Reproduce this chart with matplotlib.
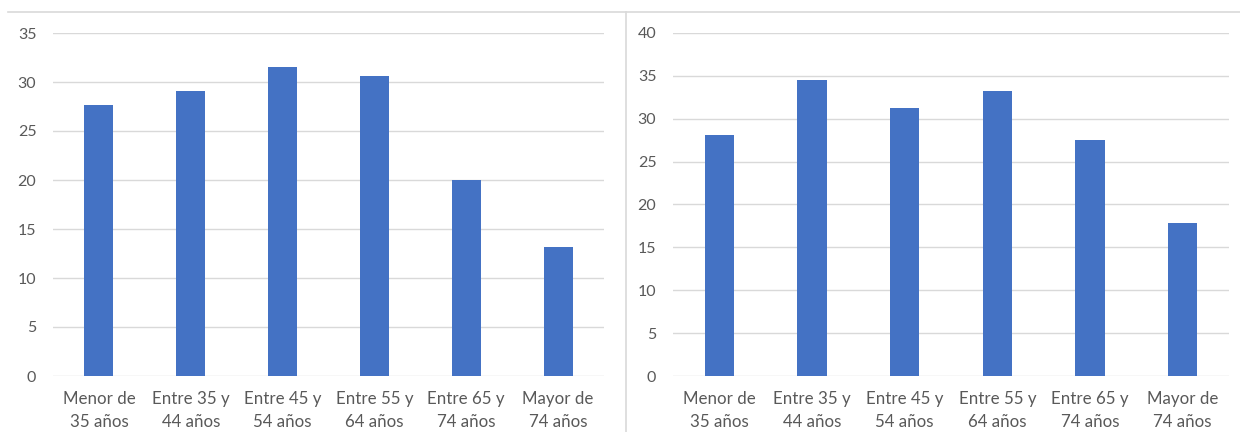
import matplotlib
matplotlib.use("Agg")
import matplotlib.pyplot as plt
from matplotlib.lines import Line2D

plt.rcParams['font.family'] = ['Lato', 'DejaVu Sans']

categories = ["Menor de\n35 años", "Entre 35 y\n44 años", "Entre 45 y\n54 años",
              "Entre 55 y\n64 años", "Entre 65 y\n74 años", "Mayor de\n74 años"]
values_left = [27.7, 29.1, 31.5, 30.6, 20.0, 13.2]
values_right = [28.1, 34.5, 31.3, 33.2, 27.5, 17.8]
yticks_left = [0, 5, 10, 15, 20, 25, 30, 35]
yticks_right = [0, 5, 10, 15, 20, 25, 30, 35, 40]

BAR = "#4472C4"
GRID = "#d9d9d9"
TEXT = "#595959"

W, H = 1240, 432
fig = plt.figure(figsize=(W / 100, H / 100), dpi=100)


def panel(x0, x1, vals, ticks):
    ax = fig.add_axes([x0 / W, 1 - 376 / H, (x1 - x0) / W, (376 - 33) / H])
    xs = range(len(categories))
    ax.bar(xs, vals, width=0.315, color=BAR, zorder=3)
    ax.set_xlim(-0.5, len(categories) - 0.5)
    ax.set_ylim(ticks[0], ticks[-1])
    ax.set_yticks(ticks)
    ax.set_xticks(list(xs))
    ax.set_xticklabels(categories, linespacing=1.5)
    ax.grid(axis="y", color=GRID, linewidth=1, zorder=0)
    for s in ax.spines.values():
        s.set_visible(False)
    ax.tick_params(axis="both", length=0, labelcolor=TEXT)
    ax.tick_params(axis="y", pad=12, labelsize=11.5)
    ax.tick_params(axis="x", pad=11, labelsize=12.2)
    ax.set_facecolor("none")
    return ax


panel(53, 604, values_left, yticks_left)
panel(673, 1229, values_right, yticks_right)

# frame lines between the two charts
fig.add_artist(Line2D([8 / W, 1.0], [1 - 11.5 / H, 1 - 11.5 / H],
                      transform=fig.transFigure, color=GRID, linewidth=1.2))
fig.add_artist(Line2D([626 / W, 626 / W], [0, 1 - 11.5 / H],
                      transform=fig.transFigure, color=GRID, linewidth=1.2))

fig.savefig("out.png", dpi=100, facecolor="white")
